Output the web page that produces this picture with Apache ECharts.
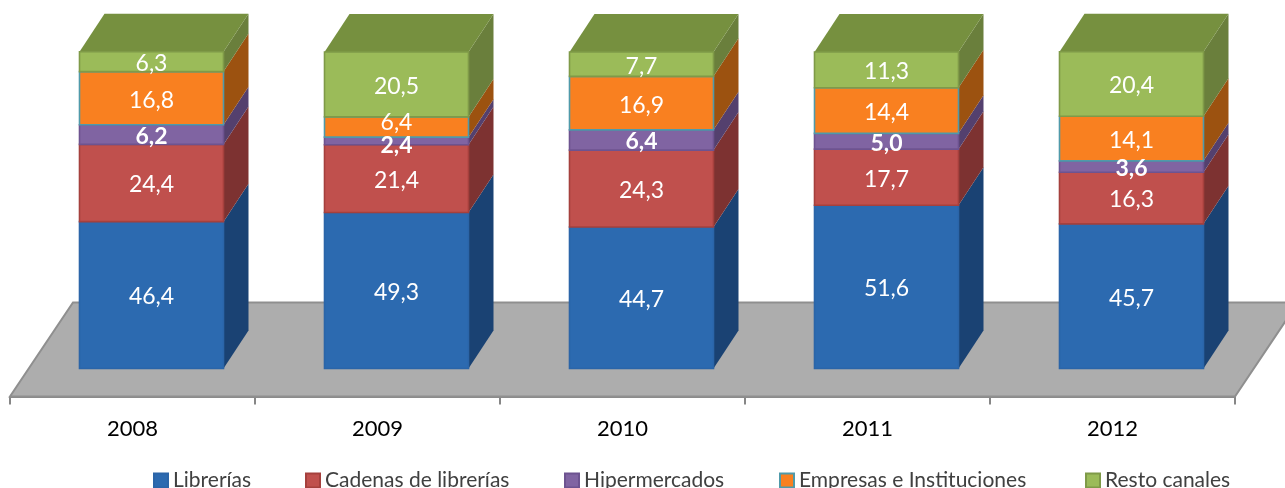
<!DOCTYPE html>
<html><head><meta charset="utf-8">
<style>html,body{margin:0;padding:0;background:#fff}#c{width:1285px;height:488px}</style>
<script src="https://cdn.jsdelivr.net/npm/echarts@6/dist/echarts.min.js"></script>
</head><body><div id="c"></div>
<script>
const categories = ['2008','2009','2010','2011','2012'];
const librerias = [46.4,49.3,44.7,51.6,45.7];
const cadenas = [24.4,21.4,24.3,17.7,16.3];
const hipermercados = [6.2,2.4,6.4,5.0,3.6];
const empresas = [16.8,6.4,16.9,14.4,14.1];
const resto = [6.3,20.5,7.7,11.3,20.4];
const names = ['Librerías','Cadenas de librerías','Hipermercados','Empresas e Instituciones','Resto canales'];
const values = [librerias,cadenas,hipermercados,empresas,resto];
const front = ['#2c6ab0','#c0504d','#8064a2','#f98020','#9bbb59'];
const side = ['#1a4273','#7d3231','#54406e','#9c5210','#6a7f3c'];
const border = ['#2b65a8','#a5403d','#6d5390','#4f9aaa','#7f9a48'];
const legendLeft = [148,300,559,774,1080];
const topFace = '#76903f';
const boldSeries = 2;
const labelNudge = {'1-2':3,'1-3':-6};
const DX=25, DY=-38, SHIFT=19, BARW=144, LABEL_DOWN=2;
const FONT='Lato';

function poly(pts,fill,stroke,z2){return {type:'polygon',shape:{points:pts},style:{fill,stroke:stroke||null,lineWidth:stroke?2:0},z2:z2||0};}

const series = [{
  type:'custom',silent:true,z:1,data:[[0]],encode:{x:0},
  renderItem(params){
    const g=params.coordSys, yF=g.y+g.height, x0=g.x, x1=g.x+g.width;
    return poly([[x0,yF],[x1,yF],[x1+63,yF-94],[x0+63,yF-94]],'#adadad','#8f8f8f');
  }
}];
names.forEach((name,s)=>{
  const data=categories.map((c,i)=>{
    let base=0; for(let k=0;k<s;k++) base+=values[k][i];
    return [i,base,base+values[s][i],values[s][i]];
  });
  series.push({
    type:'custom',name,z:2,data,encode:{x:0,y:[1,2]},
    itemStyle:{color:front[s],borderColor:border[s],borderWidth:2},
    renderItem(params,api){
      const c=api.coord([api.value(0),api.value(1)]);
      const t=api.coord([api.value(0),api.value(2)]);
      const l=c[0]+SHIFT-BARW/2, r=l+BARW, yb=c[1], yt=t[1];
      const kids=[
        poly([[r,yb],[r+DX,yb+DY],[r+DX,yt+DY],[r,yt]],side[s]),
        {type:'rect',shape:{x:l,y:yt,width:BARW,height:yb-yt},style:{fill:front[s],stroke:border[s],lineWidth:1.6},z2:2}
      ];
      if(s===names.length-1) kids.push(poly([[l,yt],[r,yt],[r+DX,yt+DY],[l+DX,yt+DY]],topFace,null,1));
      const nudge=labelNudge[api.value(0)+'-'+s]||0;
      kids.push({type:'text',z2:5,style:{
        text:api.value(3).toFixed(1).replace('.',','),
        x:(l+r)/2,y:(yb+yt)/2+LABEL_DOWN+nudge,align:'center',verticalAlign:'middle',
        fill:'#fff',font:(s===boldSeries?'bold ':'')+'23px '+FONT}});
      return {type:'group',children:kids};
    }
  });
});

const chart=echarts.init(document.getElementById('c'),null,{renderer:'canvas'});
chart.setOption({
  animation:false,backgroundColor:'#fff',
  grid:{left:10,width:1225,top:52,height:344.5,containLabel:false},
  xAxis:{type:'category',data:categories,
    axisLine:{onZero:false,lineStyle:{color:'#868686',width:2}},
    axisTick:{show:true,length:8,lineStyle:{color:'#868686',width:2}},
    axisLabel:{color:'#000',fontFamily:FONT,fontSize:22,margin:21},
    splitLine:{show:false}},
  yAxis:{type:'value',min:-8.85,max:100,show:false},
  legend:names.map((n,i)=>({left:legendLeft[i],top:465,itemWidth:14,itemHeight:14,icon:'rect',
    data:[n],selectedMode:false,
    textStyle:{color:'#404040',fontFamily:FONT,fontSize:21}})),
  series
});
</script></body></html>
